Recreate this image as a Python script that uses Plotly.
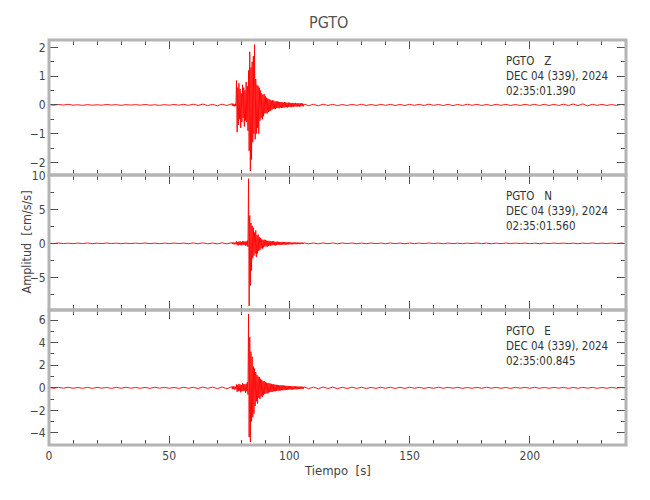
import numpy as np
import plotly.graph_objects as go
from plotly.subplots import make_subplots

# ---------------- data ----------------
station = "PGTO"
channels = ["Z", "N", "E"]
date_label = "DEC 04 (339), 2024"
start_times = ["02:35:01.390", "02:35:01.560", "02:35:00.845"]

# sample times: pre-event (2 s), event (0.25 s), post-event (2 s)
t_pre = np.arange(0, 76, 2.0)
t_evt = 76 + 0.25 * np.arange(120)
t_post = np.arange(106, 241, 2.0)

z_pre = [0.01, -0.01, 0.015, -0.005, 0.02, -0.01, 0.005, -0.015, 0.01, -0.01,
         0.005, -0.01, 0.015, -0.005, 0.01, -0.015, 0.01, -0.005, 0.01, -0.01,
         0.015, -0.01, 0.005, -0.015, 0.01, -0.01, 0.015, -0.01, 0.02, -0.015,
         0.025, -0.02, 0.03, -0.025, 0.02, -0.03, 0.025, -0.02]
z_evt = [0.04, -0.03, 0.05, -0.04, 0.03, -0.05, 0.04, -0.04,
         0.85, -0.95, 0.6, -0.7, 0.75, -0.5, 0.55, -0.8, 0.4, -0.6,
         0.7, -0.45, 0.6, -0.75, 0.5, -0.55, 0.8, -0.6, 0.65, -0.9,
         1.2, -1.6, 1.85, -2.3, 1.3, -1.9, 1.5, -1.3, 1.7, -1.0, 2.1, -1.2,
         0.9, -1.0, 0.7, -0.8, 0.65, -1.0, 0.6, -0.55,
         0.5, -0.45, 0.4, -0.5, 0.35, -0.4, 0.38, -0.3,
         0.3, -0.28, 0.25, -0.3, 0.22, -0.25, 0.2, -0.22,
         0.18, -0.2, 0.15, -0.17, 0.16, -0.14, 0.15, -0.13, 0.12, -0.14, 0.13, -0.11,
         0.12, -0.1, 0.11, -0.12, 0.1, -0.09, 0.1, -0.11, 0.09, -0.1,
         0.08, -0.09, 0.1, -0.08, 0.09, -0.08, 0.07, -0.09, 0.08, -0.07,
         0.08, -0.07, 0.06, -0.08, 0.07, -0.06, 0.07, -0.07, 0.06, -0.05, 0.07, -0.06,
         0.05, -0.06, 0.06, -0.05, 0.06, -0.06, 0.05, -0.05, 0.06, -0.04, 0.05, -0.05]
z_post = [0.03, -0.025, 0.02, -0.03, 0.025, -0.02, 0.02, -0.025, 0.015, -0.02,
          0.02, -0.015, 0.025, -0.02, 0.015, -0.02, 0.02, -0.015, 0.02, -0.02,
          0.015, -0.02, 0.02, -0.015, 0.02, -0.02, 0.025, -0.015, 0.015, -0.02,
          0.02, -0.025, 0.015, -0.02, 0.025, -0.015, 0.02, -0.02, 0.015, -0.02,
          0.02, -0.015, 0.02, -0.02, 0.015, -0.02, 0.02, -0.015, 0.02, -0.02,
          0.02, -0.02, 0.02, -0.02, 0.025, -0.02, 0.03, -0.025, 0.035, -0.03,
          0.02, -0.015, 0.02, -0.02, 0.015, -0.02, 0.02, -0.015]

n_pre = [0.04, -0.03, 0.05, -0.04, 0.03, -0.05, 0.04, -0.03, 0.05, -0.04,
         0.03, -0.04, 0.05, -0.03, 0.04, -0.05, 0.03, -0.04, 0.04, -0.03,
         0.05, -0.04, 0.03, -0.05, 0.04, -0.04, 0.05, -0.03, 0.04, -0.05,
         0.06, -0.05, 0.07, -0.06, 0.05, -0.07, 0.08, -0.07]
n_evt = [0.1, -0.1, 0.15, -0.12, 0.1, -0.15, 0.12, -0.1,
         0.3, -0.25, 0.2, -0.3, 0.25, -0.2, 0.3, -0.25, 0.2, -0.3,
         0.35, -0.25, 0.3, -0.2, 0.25, -0.35, 0.3, -0.3, 0.4, -0.5,
         9.5, -9.2, 4.1, -6.2, 3.0, -4.0, 2.6, -2.2, 2.3, -1.8, 1.6, -1.5,
         1.9, -2.0, 1.2, -1.5, 1.3, -1.1, 0.9, -1.0,
         0.8, -0.7, 0.6, -0.8, 0.5, -0.6, 0.55, -0.45,
         0.5, -0.45, 0.4, -0.5, 0.35, -0.4, 0.38, -0.3,
         0.3, -0.35, 0.28, -0.3, 0.32, -0.25, 0.3, -0.28, 0.25, -0.3, 0.22, -0.26,
         0.25, -0.2, 0.22, -0.25, 0.2, -0.22, 0.18, -0.2, 0.22, -0.18,
         0.2, -0.17, 0.18, -0.2, 0.16, -0.18, 0.17, -0.15, 0.18, -0.16,
         0.15, -0.14, 0.13, -0.15, 0.12, -0.14, 0.13, -0.12, 0.14, -0.11, 0.12, -0.13,
         0.11, -0.12, 0.12, -0.1, 0.11, -0.12, 0.1, -0.11, 0.1, -0.09, 0.11, -0.1]
n_post = [0.07, -0.06, 0.05, -0.07, 0.06, -0.05, 0.06, -0.06, 0.05, -0.04,
          0.05, -0.05, 0.04, -0.05, 0.05, -0.04, 0.04, -0.05, 0.05, -0.04,
          0.04, -0.05, 0.05, -0.04, 0.04, -0.04, 0.05, -0.03, 0.04, -0.05,
          0.04, -0.04, 0.03, -0.05, 0.04, -0.03, 0.05, -0.04, 0.04, -0.05,
          0.03, -0.04, 0.05, -0.04, 0.04, -0.03, 0.04, -0.05, 0.03, -0.04,
          0.04, -0.04, 0.05, -0.03, 0.04, -0.04, 0.03, -0.05, 0.04, -0.03,
          0.05, -0.04, 0.03, -0.04, 0.04, -0.03, 0.04, -0.04]

e_pre = [0.03, -0.04, 0.04, -0.03, 0.05, -0.04, 0.03, -0.04, 0.04, -0.05,
         0.04, -0.03, 0.03, -0.05, 0.04, -0.04, 0.05, -0.03, 0.03, -0.04,
         0.04, -0.05, 0.05, -0.03, 0.04, -0.04, 0.03, -0.05, 0.05, -0.04,
         0.05, -0.06, 0.07, -0.05, 0.06, -0.07, 0.07, -0.08]
e_evt = [0.1, -0.12, 0.15, -0.1, 0.12, -0.15, 0.1, -0.12,
         0.3, -0.35, 0.25, -0.3, 0.35, -0.25, 0.3, -0.4, 0.25, -0.3,
         0.4, -0.3, 0.35, -0.25, 0.3, -0.45, 0.35, -0.3, 0.5, -0.6,
         6.55, -4.35, 4.5, -4.8, 3.2, -3.0, 2.75, -2.6, 1.9, -2.3, 1.7, -1.6,
         1.4, -1.2, 1.15, -1.4, 1.0, -0.9, 0.95, -1.0,
         0.8, -0.75, 0.7, -0.8, 0.6, -0.65, 0.6, -0.55,
         0.5, -0.5, 0.45, -0.5, 0.4, -0.45, 0.42, -0.38,
         0.38, -0.35, 0.35, -0.38, 0.3, -0.33, 0.32, -0.3, 0.28, -0.3, 0.27, -0.28,
         0.26, -0.25, 0.24, -0.26, 0.22, -0.24, 0.23, -0.2, 0.22, -0.22,
         0.2, -0.21, 0.19, -0.2, 0.18, -0.19, 0.17, -0.18, 0.17, -0.16,
         0.16, -0.15, 0.15, -0.16, 0.14, -0.15, 0.13, -0.14, 0.14, -0.12, 0.13, -0.13,
         0.12, -0.13, 0.11, -0.12, 0.12, -0.11, 0.11, -0.11, 0.1, -0.1, 0.1, -0.1]
e_post = [0.08, -0.07, 0.06, -0.08, 0.07, -0.06, 0.06, -0.07, 0.05, -0.06,
          0.06, -0.05, 0.05, -0.06, 0.04, -0.05, 0.05, -0.04, 0.05, -0.05,
          0.04, -0.05, 0.05, -0.04, 0.04, -0.05, 0.03, -0.04, 0.05, -0.04,
          0.04, -0.03, 0.04, -0.05, 0.03, -0.04, 0.04, -0.04, 0.05, -0.03,
          0.04, -0.04, 0.03, -0.05, 0.04, -0.03, 0.04, -0.04, 0.05, -0.04,
          0.03, -0.04, 0.04, -0.03, 0.04, -0.05, 0.03, -0.04, 0.04, -0.03,
          0.04, -0.04, 0.03, -0.04, 0.04, -0.03, 0.04, -0.04]

y_ranges = [[-2.44, 2.26], [-9.8, 10.05], [-5.07, 6.9]]
y_dticks = [1, 5, 2]
y_minor = [0.5, 2.5, 1]

# ---------------- figure ----------------
FONT = "DejaVu Sans Condensed, Liberation Sans Narrow, Liberation Sans, Arial, sans-serif"
GREY = "#b4b4b4"
fig = make_subplots(rows=3, cols=1, shared_xaxes=True, vertical_spacing=0)

t_all = np.concatenate([t_pre, t_evt, t_post])
series = [z_pre + z_evt + z_post, n_pre + n_evt + n_post, e_pre + e_evt + e_post]
for i, amp in enumerate(series):
    fig.add_trace(go.Scatter(x=t_all, y=amp, mode="lines",
                             line=dict(color="#ff0000", width=0.9),
                             showlegend=False, hoverinfo="skip"),
                  row=i + 1, col=1)

axis_common = dict(showline=True, linecolor=GREY, linewidth=1,
                   mirror="allticks", ticks="inside", tickcolor="#505050",
                   tickwidth=1.2, showgrid=False, zeroline=False,
                   automargin=False,
                   tickfont=dict(family=FONT, size=12, color="#444444"))

for i in range(3):
    fig.update_yaxes(range=y_ranges[i], dtick=y_dticks[i], tick0=0, ticklen=9,
                     minor=dict(ticks="inside", ticklen=5, dtick=y_minor[i],
                                tickcolor="#505050", showgrid=False),
                     **axis_common, row=i + 1, col=1)
    fig.update_xaxes(range=[0, 240], dtick=50, tick0=0, ticklen=9,
                     minor=dict(ticks="inside", ticklen=5, dtick=10,
                                tickcolor="#505050", showgrid=False),
                     **axis_common, row=i + 1, col=1)
    xr = "x domain" if i == 0 else f"x{i + 1} domain"
    yr = "y domain" if i == 0 else f"y{i + 1} domain"
    lines = [f"{station}\u00a0\u00a0\u00a0{channels[i]}", date_label, start_times[i]]
    for k, txt in enumerate(lines):
        fig.add_annotation(text=txt, xref=xr, yref=yr, x=0.788,
                           y=[0.845, 0.735, 0.625][k], xanchor="left",
                           yanchor="middle", showarrow=False,
                           font=dict(family=FONT, size=11.5, color="#333333"))
    # thick grey panel frame
    fig.add_shape(type="rect", xref=xr, yref=yr, x0=0, x1=1, y0=0, y1=1,
                  line=dict(color=GREY, width=3), layer="above")

fig.add_annotation(text="Amplitud\u00a0\u00a0[cm/s/s]", xref="paper", yref="paper",
                   x=0, y=0.5, xshift=-23, textangle=-90, showarrow=False,
                   xanchor="center", yanchor="middle",
                   font=dict(family=FONT, size=12.5, color="#444444"))
fig.add_annotation(text="Tiempo\u00a0\u00a0[s]", xref="paper", yref="paper",
                   x=0.5, y=0, yshift=-25, showarrow=False,
                   xanchor="center", yanchor="middle",
                   font=dict(family=FONT, size=13, color="#444444"))
fig.add_annotation(text=station, xref="paper", yref="paper",
                   x=0.5, y=1, yshift=18, xshift=-9, showarrow=False,
                   xanchor="center", yanchor="middle",
                   font=dict(family=FONT, size=16, color="#555555"))

# the page adds an 8 px body margin, so the figure is 8 px smaller and shifted
fig.update_layout(width=642, height=492, plot_bgcolor="white",
                  paper_bgcolor="white",
                  margin=dict(l=41, r=24, t=32, b=55),
                  font=dict(family=FONT))

fig.write_html("out.html")
